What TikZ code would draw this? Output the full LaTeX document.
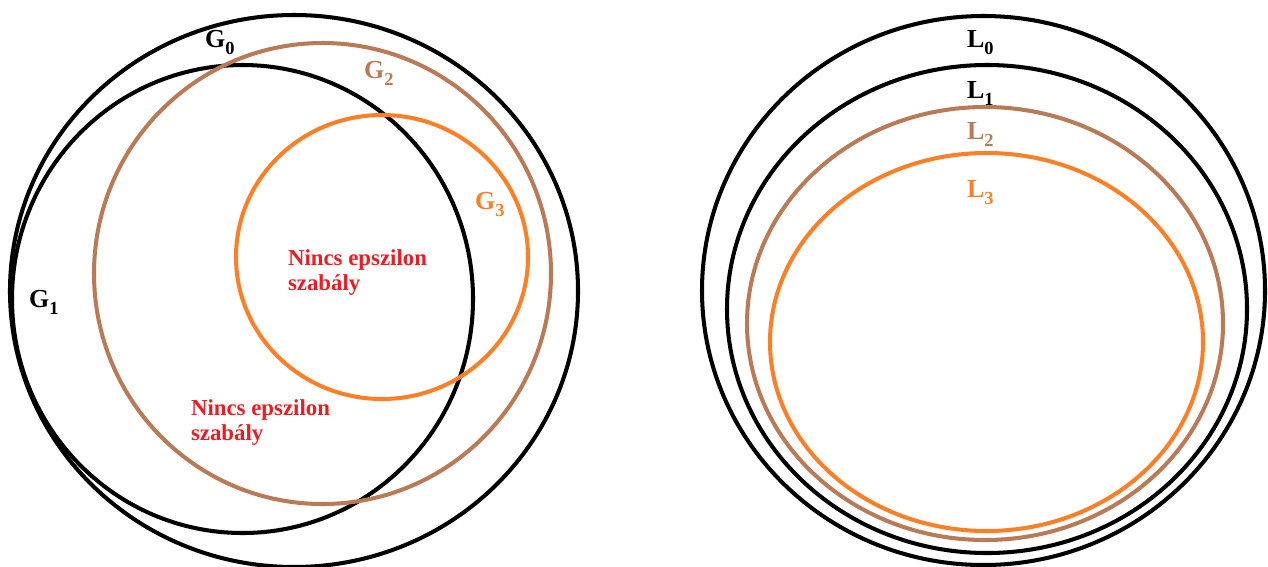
\documentclass[tikz,border=0pt]{standalone}
\usepackage{fontspec}
\setmainfont{Liberation Serif}
\definecolor{paintbrown}{RGB}{185,122,87}
\definecolor{paintorange}{RGB}{255,127,39}
\definecolor{paintred}{RGB}{237,28,36}
\newcommand{\idx}[1]{\raisebox{-0.3em}{\fontsize{10.5}{10.5}\selectfont #1}}
\begin{document}
\begin{tikzpicture}[x=0.2mm,y=-0.2mm,line width=2.3pt,
		font=\fontsize{14.8}{16}\selectfont\bfseries,
		lbl/.style={anchor=base west,inner sep=0pt},
		note/.style={anchor=base west,inner sep=0pt,align=left,text=paintred,
			font=\fontsize{13}{14.2}\selectfont\bfseries}]
	\useasboundingbox (0,0) rectangle (1268,566);
	% left: the grammars
	\def\gzero{(294,291) ellipse (284 and 276)}
	\def\gone{(242.5,299) ellipse (230.5 and 234)}
	\def\gtwo{(322.5,273.5) ellipse (228.5 and 230.5)}
	\def\gthree{(382,257) ellipse (146 and 142)}
	\draw \gzero;
	\draw \gone;
	\draw[paintbrown] \gtwo;
	\draw[paintorange] \gthree;
	\node[lbl] (g0) at (203,47) {G\idx{0}};
	\node[lbl] (g1) at (27,307) {G\idx{1}};
	\node[lbl,text=paintbrown] (g2) at (362,78) {G\idx{2}};
	\node[lbl,text=paintorange] (g3) at (473,209) {G\idx{3}};
	\node[note] (inner) at (286,290) {Nincs epszilon\\szabály};
	\node[note] (outer) at (189,440) {Nincs epszilon\\szabály};
	% right: the languages
	\def\lzero{(983.5,290.5) ellipse (281.5 and 274.5)}
	\def\lone{(987,309) ellipse (260 and 244)}
	\def\ltwo{(985,323.5) ellipse (238 and 216.5)}
	\def\lthree{(986.5,342) ellipse (216.5 and 189)}
	\draw \lzero;
	\draw \lone;
	\draw[paintbrown] \ltwo;
	\draw[paintorange] \lthree;
	\node[lbl] (l0) at (965,47) {L\idx{0}};
	\node[lbl] (l1) at (965,98) {L\idx{1}};
	\node[lbl,text=paintbrown] (l2) at (965,139) {L\idx{2}};
	\node[lbl,text=paintorange] (l3) at (965,197) {L\idx{3}};
\end{tikzpicture}
\end{document}
